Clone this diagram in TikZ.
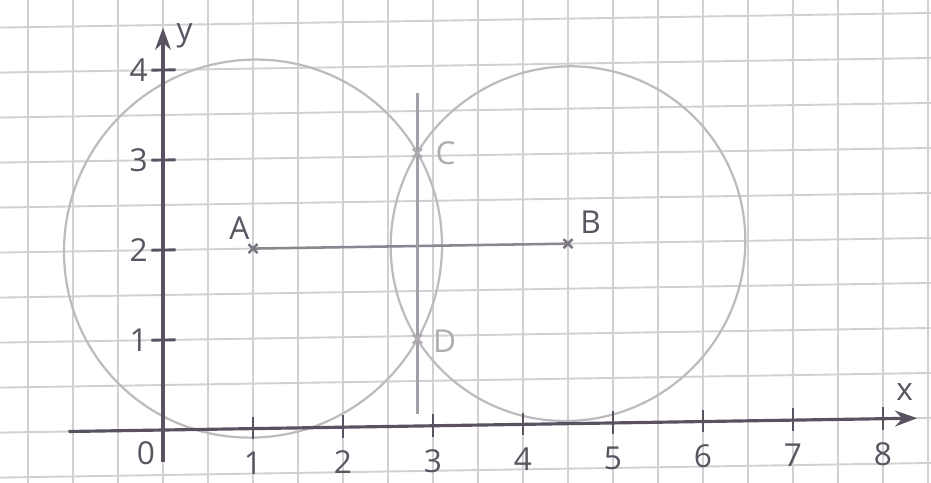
\documentclass[tikz,border=0pt]{standalone}
\usepackage{fontspec}
\setmainfont{Open Sans}
\usetikzlibrary{arrows.meta,calc}
\definecolor{gridc}{HTML}{D2D0D2}
\definecolor{axc}{HTML}{5A5260}
\definecolor{circc}{HTML}{BDBBBD}
\definecolor{txtc}{HTML}{5A5560}
\definecolor{faint}{HTML}{AFABB0}
\tikzset{
  gridline/.style={gridc, line width=0.6pt},
  axis/.style={axc, line width=1pt},
  tickline/.style={axc, line width=0.9pt},
  circ/.style={circc, line width=0.7pt},
  ticklab/.style={text=txtc, font=\fontsize{10}{11}\selectfont, inner sep=0pt},
  ptlab/.style={text=txtc, font=\fontsize{10}{11}\selectfont, inner sep=0pt},
  faintlab/.style={text=faint, font=\fontsize{10}{11}\selectfont, inner sep=0pt},
  cross/.style={line width=0.8pt},
}
\begin{document}
\begin{tikzpicture}[x=1cm,y=1cm]
\useasboundingbox[fill=white] (-1.811,-0.578) rectangle (8.533,4.778);
\clip (-1.811,-0.578) rectangle (8.533,4.778);
\begin{scope}[cm={1,0.0157,0,1,(0,0)}]
% grid
\foreach \i in {-3,...,17} { \draw[gridline] (\i*0.5,-0.8) -- (\i*0.5,4.9); }
\foreach \j in {-2,...,9} { \draw[gridline] (-1.9,\j*0.5) -- (8.6,\j*0.5); }
% points
\coordinate (A) at (1,2);
\coordinate (B) at (4.5,2);
\coordinate (C) at (2.826,3.033);
\coordinate (D) at (2.826,0.967);
% circles
\draw[circ] (A) circle (2.1);
\draw[circ] (B) circle (1.97);
% segment AB
\draw[axc!70, line width=0.8pt] (A) -- (B);
% perpendicular bisector
\coordinate (P1) at (2.826,3.70);
\coordinate (P2) at (2.826,0.13);
\draw[axc!55, line width=0.9pt] (P1) -- (P2);
% crosses
\foreach \p/\c in {A/axc!80,B/axc!80,C/faint,D/faint} {
  \draw[cross,\c] ($(\p)+(-0.05,-0.05)$) -- ($(\p)+(0.05,0.05)$);
  \draw[cross,\c] ($(\p)+(-0.05,0.05)$) -- ($(\p)+(0.05,-0.05)$);
}
% axes
\coordinate (xs) at (-1.05,0);
\coordinate (xe) at (8.38,0);
\coordinate (ys) at (0,-0.36);
\coordinate (ye) at (0,4.47);
\draw[axis,-{Stealth[length=7pt,width=5pt]}] (xs) -- (xe);
\draw[axis,-{Stealth[length=7pt,width=5pt]}] (ys) -- (ye);
\node[ticklab] (xl) at (8.24,0.29) {x};
\node[ticklab] (yl) at (0.24,4.38) {y};
% ticks
\foreach \k in {1,...,8} {
  \draw[tickline] (\k,-0.12) -- (\k,0.13);
  \node[ticklab] (xt\k) at (\k,-0.39) {\k};
}
\foreach \k in {1,...,4} {
  \draw[tickline] (-0.13,\k) -- (0.14,\k);
  \node[ticklab] (yt\k) at (-0.27,\k) {\k};
}
\node[ticklab] (o) at (-0.19,-0.25) {0};
% labels
\node[ptlab] (la) at (0.85,2.23) {A};
\node[ptlab] (lb) at (4.75,2.23) {B};
\node[faintlab] (lc) at (3.14,3.03) {C};
\node[faintlab] (ld) at (3.13,0.94) {D};
\end{scope}
\end{tikzpicture}
\end{document}
